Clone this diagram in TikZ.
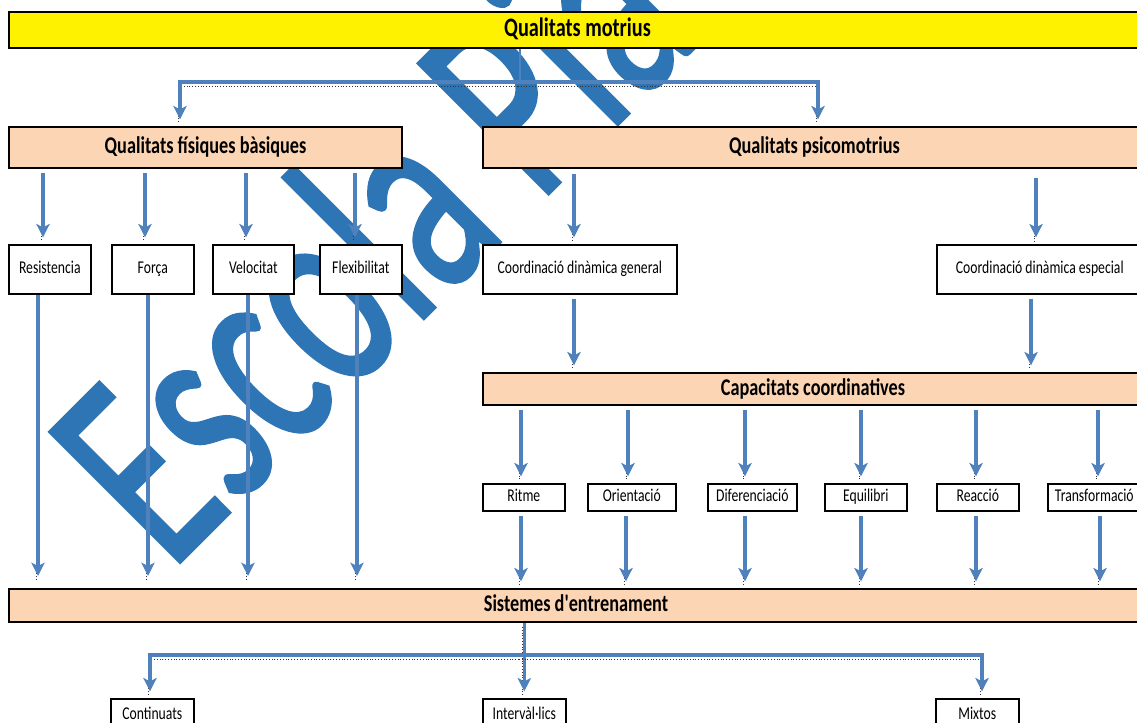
\documentclass[tikz,border=0pt]{standalone}
\usepackage{fontspec}
\setmainfont{Carlito}
\newfontfamily\wmfont{Carlito}[FakeBold=1.3]
\usetikzlibrary{arrows.meta}
\definecolor{peach}{HTML}{FCD5B4}
\definecolor{arrowblue}{HTML}{4F81BD}
\definecolor{wmblue}{HTML}{2E75B6}
\newcommand{\nx}[1]{\scalebox{0.76}[1]{#1}}
\newcommand{\bx}[7]{\node[#1, minimum width={(#4-#2)*0.75pt}, minimum height={(#5-#3)*0.75pt}] (#6) at (#2,#3) {\nx{#7}};}
\begin{document}
\begin{tikzpicture}[x=0.75pt,y=-0.75pt,
  titlebox/.style={draw=black, line width=1.5pt, fill=yellow, anchor=north west, inner sep=0pt, text height=14pt, text depth=4pt, font=\bfseries\fontsize{20}{24}\selectfont},
  hdrbox/.style={draw=black, line width=1.5pt, fill=peach, anchor=north west, inner sep=0pt, text height=12.5pt, text depth=3.5pt, font=\bfseries\fontsize{18}{22}\selectfont},
  smallbox/.style={draw=black, line width=1.2pt, fill=white, anchor=north west, inner sep=0pt, text height=10pt, text depth=3pt, font=\fontsize{13.5}{16}\selectfont},
  shadowline/.style={preaction={draw=black!80, -, line width=0.7pt, dash pattern=on 0.7pt off 1.4pt, transform canvas={xshift=-1.5pt,yshift=-3pt}}},
  conn/.style={draw=arrowblue, line width=2.4pt, -{Stealth[length=10pt,width=10pt,inset=2.5pt]}, shadowline},
  plainline/.style={draw=arrowblue, line width=1.5pt},
  wmark/.style={rotate=45, anchor=base west, inner sep=0pt, text=wmblue, font=\wmfont\fontsize{215}{215}\selectfont},
]
\useasboundingbox (0,0) rectangle (1137,723);
\fill[white] (0,0) rectangle (1137,723);

% watermark
\node[wmark] (wm) at (170,572) {\scalebox{0.66}[1]{Escola Pia}};

% boxes
\bx{titlebox}{8}{11}{1145}{47}{title}{Qualitats motrius}
\bx{hdrbox}{8}{126}{401}{167}{fis}{Qualitats físiques bàsiques}
\bx{hdrbox}{482}{126}{1145}{167}{psi}{Qualitats psicomotrius}

\bx{smallbox}{8}{244}{90}{293}{res}{Resistencia}
\bx{smallbox}{111}{244}{193}{293}{for}{Força}
\bx{smallbox}{212}{244}{293}{293}{vel}{Velocitat}
\bx{smallbox}{319}{244}{401}{293}{flx}{Flexibilitat}
\bx{smallbox}{482}{244}{676}{293}{cdg}{Coordinació dinàmica general}
\bx{smallbox}{936}{244}{1142}{293}{cde}{Coordinació dinàmica especial}

\bx{hdrbox}{482}{372}{1142}{404}{cap}{Capacitats coordinatives}

\bx{smallbox}{482}{483}{564}{510}{rit}{Ritme}
\bx{smallbox}{587}{483}{675}{510}{ori}{Orientació}
\bx{smallbox}{707}{483}{796}{510}{dif}{Diferenciació}
\bx{smallbox}{824}{483}{906}{510}{equ}{Equilibri}
\bx{smallbox}{936}{483}{1018}{510}{rea}{Reacció}
\bx{smallbox}{1047}{483}{1140}{510}{tra}{Transformació}

\bx{hdrbox}{8}{588}{1142}{621}{sis}{Sistemes d\textquotesingle entrenament}

\bx{smallbox}{110}{698}{193}{730}{cont}{Continuats}
\bx{smallbox}{482}{698}{565}{730}{int}{Intervàl·lics}
\bx{smallbox}{935}{698}{1018}{730}{mix}{Mixtos}

% connectors
\coordinate (j1) at (520,82);
\draw[plainline] (title.south -| j1) -- (j1);
\draw[conn, shorten >=5pt] (j1) -| (fis.north -| 180,0);
\draw[conn, shorten >=5pt] (j1) -| (psi.north -| 818,0);

\foreach \x/\t in {43/res,145/for,246/vel,355/flx}
  \draw[conn, shorten <=3pt, shorten >=5pt] (fis.south -| \x,0) -- (\t.north -| \x,0);
\foreach \x/\t in {38/res,148/for,248/vel,357/flx}
  \draw[conn, shorten >=9pt] (\t.south -| \x,0) -- (sis.north -| \x,0);

\draw[conn, shorten <=4pt, shorten >=5pt] (psi.south -| 574,0) -- (cdg.north -| 574,0);
\draw[conn, shorten <=7pt, shorten >=5pt] (psi.south -| 1036,0) -- (cde.north -| 1036,0);
\draw[conn, shorten <=3pt, shorten >=5pt] (cdg.south -| 574,0) -- (cap.north -| 574,0);
\draw[conn, shorten <=3pt, shorten >=5pt] (cde.south -| 1031,0) -- (cap.north -| 1031,0);

\foreach \x/\t in {521/rit,628/ori,745/dif,861/equ,976/rea,1098/tra}
  \draw[conn, shorten <=3pt, shorten >=5pt] (cap.south -| \x,0) -- (\t.north -| \x,0);
\foreach \x/\t in {521/rit,626/ori,745/dif,861/equ,976/rea,1100/tra}
  \draw[conn, shorten <=3pt, shorten >=5pt] (\t.south -| \x,0) -- (sis.north -| \x,0);

\coordinate (j2) at (521,655);
\draw[conn, shorten >=5pt] (sis.south -| int.north) -- (int.north);
\draw[conn, shorten >=5pt] (j2) -| (cont.north -| 150,0);
\draw[conn, shorten >=5pt] (j2) -| (mix.north -| 982,0);
\end{tikzpicture}
\end{document}
